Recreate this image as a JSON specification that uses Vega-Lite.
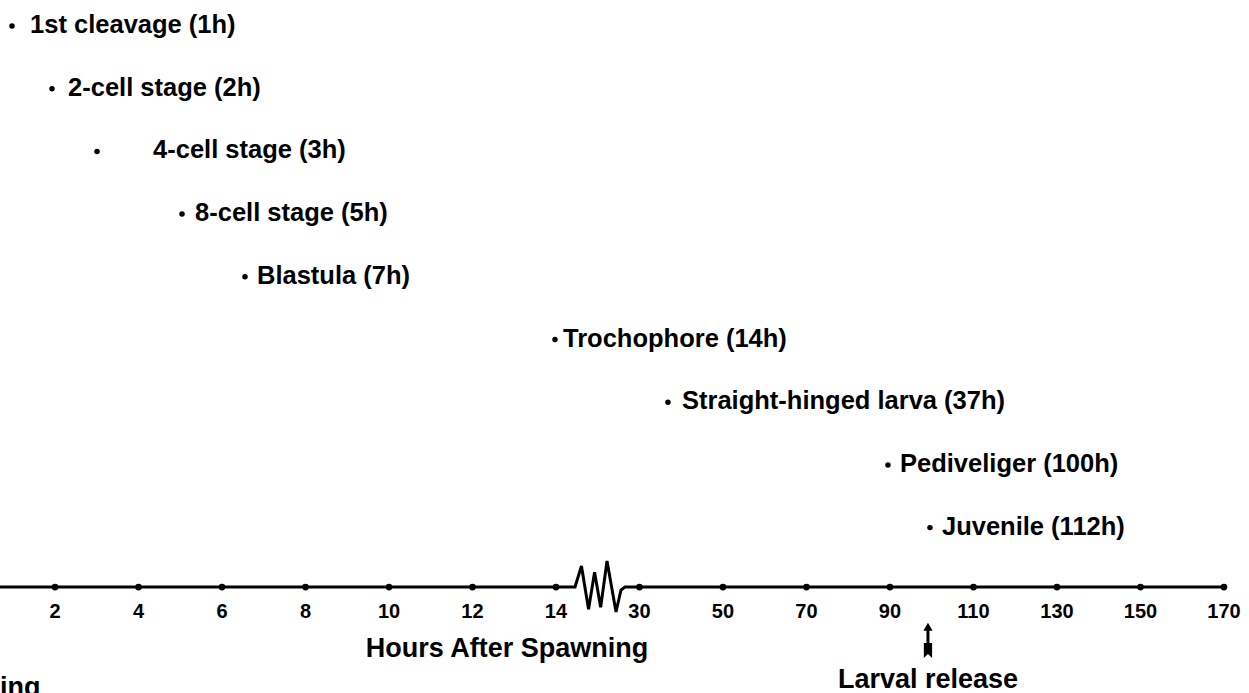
{
  "$schema": "https://vega.github.io/schema/vega-lite/v6.json",
  "width": 1249,
  "height": 693,
  "autosize": {"type": "none"},
  "padding": 0,
  "background": "white",
  "config": {"view": {"stroke": null}, "text": {"font": "Liberation Sans"}},
  "datasets": {
    "events": [
      {"stage": "1st cleavage (1h)", "hours": 1, "slot": 0.485, "label_slot": 0.701, "row": 1},
      {"stage": "2-cell stage (2h)", "hours": 2, "slot": 0.964, "label_slot": 1.156, "row": 2},
      {"stage": "4-cell stage (3h)", "hours": 3, "slot": 1.503, "label_slot": 2.174, "row": 3},
      {"stage": "8-cell stage (5h)", "hours": 5, "slot": 2.521, "label_slot": 2.677, "row": 4},
      {"stage": "Blastula (7h)", "hours": 7, "slot": 3.275, "label_slot": 3.419, "row": 5},
      {"stage": "Trochophore (14h)", "hours": 14, "slot": 6.988, "label_slot": 7.084, "row": 6},
      {"stage": "Straight-hinged larva (37h)", "hours": 37, "slot": 8.341, "label_slot": 8.509, "row": 7},
      {"stage": "Pediveliger (100h)", "hours": 100, "slot": 10.976, "label_slot": 11.12, "row": 8},
      {"stage": "Juvenile (112h)", "hours": 112, "slot": 11.479, "label_slot": 11.623, "row": 9}
    ],
    "ticks": [
      {"slot": 1, "label": "2"}, {"slot": 2, "label": "4"}, {"slot": 3, "label": "6"},
      {"slot": 4, "label": "8"}, {"slot": 5, "label": "10"}, {"slot": 6, "label": "12"},
      {"slot": 7, "label": "14"}, {"slot": 8, "label": "30"}, {"slot": 9, "label": "50"},
      {"slot": 10, "label": "70"}, {"slot": 11, "label": "90"}, {"slot": 12, "label": "110"},
      {"slot": 13, "label": "130"}, {"slot": 14, "label": "150"}, {"slot": 15, "label": "170"}
    ],
    "axisline": [
      {"i": 0, "slot": 0.341, "row": 9.836},
      {"i": 1, "slot": 7.228, "row": 9.836},
      {"i": 2, "slot": 7.305, "row": 9.5},
      {"i": 3, "slot": 7.39, "row": 10.19},
      {"i": 4, "slot": 7.462, "row": 9.6},
      {"i": 5, "slot": 7.535, "row": 10.16},
      {"i": 6, "slot": 7.611, "row": 9.42},
      {"i": 7, "slot": 7.719, "row": 10.234},
      {"i": 8, "slot": 7.778, "row": 9.884},
      {"i": 9, "slot": 7.826, "row": 9.836},
      {"i": 10, "slot": 15.0, "row": 9.836}
    ]
  },
  "layer": [
    {
      "data": {"name": "axisline"},
      "mark": {"type": "line", "color": "black", "strokeWidth": 3, "strokeJoin": "miter"},
      "encoding": {
        "x": {"field": "slot", "type": "quantitative", "scale": {"domain": [0.341, 15.3], "zero": false, "nice": false}, "axis": null},
        "y": {"field": "row", "type": "quantitative", "scale": {"domain": [0.4737, 11.526], "zero": false, "nice": false, "reverse": true}, "axis": null},
        "order": {"field": "i", "type": "quantitative"}
      }
    },
    {
      "data": {"name": "ticks"},
      "mark": {"type": "point", "filled": true, "color": "black", "opacity": 1, "size": 45},
      "encoding": {
        "x": {"field": "slot", "type": "quantitative"},
        "y": {"datum": 9.836, "type": "quantitative"}
      }
    },
    {
      "data": {"name": "ticks"},
      "mark": {"type": "text", "fontSize": 20, "fontWeight": "bold", "color": "black", "align": "center", "baseline": "alphabetic"},
      "encoding": {
        "x": {"field": "slot", "type": "quantitative"},
        "y": {"datum": 10.33, "type": "quantitative"},
        "text": {"field": "label"}
      }
    },
    {
      "data": {"name": "events"},
      "mark": {"type": "point", "filled": true, "color": "black", "opacity": 1, "size": 30, "yOffset": -7},
      "encoding": {
        "x": {"field": "slot", "type": "quantitative"},
        "y": {"field": "row", "type": "quantitative"}
      }
    },
    {
      "data": {"name": "events"},
      "mark": {"type": "text", "fontSize": 25.5, "fontWeight": "bold", "color": "black", "align": "left", "baseline": "alphabetic"},
      "encoding": {
        "x": {"field": "label_slot", "type": "quantitative"},
        "y": {"field": "row", "type": "quantitative"},
        "text": {"field": "stage"}
      }
    },
    {
      "data": {"values": [{"t": "Hours After Spawning", "slot": 6.413, "row": 10.952}]},
      "mark": {"type": "text", "fontSize": 27, "fontWeight": "bold", "color": "black", "align": "center", "baseline": "alphabetic"},
      "encoding": {
        "x": {"field": "slot", "type": "quantitative"},
        "y": {"field": "row", "type": "quantitative"},
        "text": {"field": "t"}
      }
    },
    {
      "data": {"values": [{"t": "Larval release", "slot": 11.455, "row": 11.44, "tip": 10.47, "shaft_top": 10.49, "shaft_bottom": 10.8, "tail": 10.85}]},
      "layer": [
        {
          "mark": {"type": "text", "fontSize": 27, "fontWeight": "bold", "color": "black", "align": "center", "baseline": "alphabetic"},
          "encoding": {
            "x": {"field": "slot", "type": "quantitative"},
            "y": {"field": "row", "type": "quantitative"},
            "text": {"field": "t"}
          }
        },
        {
          "mark": {"type": "rule", "color": "black", "strokeWidth": 3},
          "encoding": {
            "x": {"field": "slot", "type": "quantitative"},
            "y": {"field": "shaft_top", "type": "quantitative"},
            "y2": {"field": "shaft_bottom"}
          }
        },
        {
          "mark": {"type": "point", "shape": "triangle-up", "filled": true, "color": "black", "opacity": 1, "size": 85},
          "encoding": {
            "x": {"field": "slot", "type": "quantitative"},
            "y": {"field": "tip", "type": "quantitative"}
          }
        },
        {
          "mark": {"type": "point", "shape": "M-0.55,-1L0.55,-1L0.55,1L0,0.45L-0.55,1Z", "filled": true, "color": "black", "opacity": 1, "size": 225},
          "encoding": {
            "x": {"field": "slot", "type": "quantitative"},
            "y": {"field": "tail", "type": "quantitative"}
          }
        }
      ]
    },
    {
      "data": {"values": [{"t": "ing", "slot": 0.341, "row": 11.566}]},
      "mark": {"type": "text", "fontSize": 27, "fontWeight": "bold", "color": "black", "align": "left", "baseline": "alphabetic"},
      "encoding": {
        "x": {"field": "slot", "type": "quantitative"},
        "y": {"field": "row", "type": "quantitative"},
        "text": {"field": "t"}
      }
    }
  ]
}
